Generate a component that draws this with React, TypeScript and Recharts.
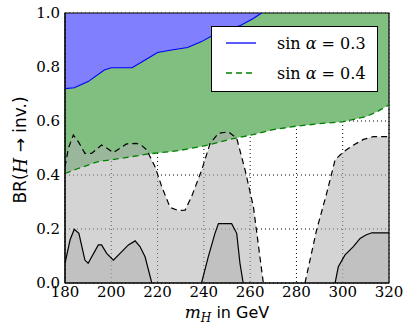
import React from "react";
import {
  ComposedChart,
  Area,
  Line,
  XAxis,
  YAxis,
  CartesianGrid,
  ReferenceArea,
  Legend,
} from "recharts";

// sin(alpha) = 0.3 contour (blue), region above is excluded
const blueX = [180, 184, 190, 197, 200, 209, 214.6, 220, 226, 233, 239, 243.4, 250, 256, 261, 265];
const blueY = [0.72, 0.723, 0.746, 0.789, 0.797, 0.797, 0.826, 0.854, 0.863, 0.872, 0.894, 0.915, 0.935, 0.955, 0.978, 1.0];

// sin(alpha) = 0.4 contour (green dashed)
const greenX = [180, 186, 194, 204.5, 216, 229, 242, 247, 251, 260, 270, 280, 290, 300, 310, 315, 320];
const greenY = [0.406, 0.425, 0.449, 0.462, 0.478, 0.49, 0.511, 0.522, 0.532, 0.547, 0.568, 0.581, 0.59, 0.597, 0.616, 0.635, 0.66];

// dashed black bound (light gray), two pieces
const dashAX = [180, 181.5, 183.6, 186, 188.6, 191.5, 195.8, 198, 200.9, 204, 206.6, 210.9, 213, 215.3, 218.9, 221.8, 225.4, 229, 231.9, 234.7, 239.1, 242.7, 246.3, 250.6, 254.2, 257.8, 261.4, 265.7];
const dashAY = [0.43, 0.5, 0.548, 0.52, 0.48, 0.48, 0.511, 0.5, 0.483, 0.5, 0.515, 0.517, 0.51, 0.493, 0.431, 0.357, 0.28, 0.268, 0.27, 0.32, 0.419, 0.517, 0.554, 0.56, 0.536, 0.419, 0.283, 0];
const dashBX = [283.7, 288.7, 293, 296.7, 300.3, 304.7, 309, 313.2, 320];
const dashBY = [0, 0.196, 0.33, 0.456, 0.486, 0.511, 0.532, 0.542, 0.542];

// solid black bound (dark gray), three pieces
const solidAX = [180, 182.2, 184, 186, 188.6, 190, 194.4, 195.8, 198, 200.9, 207.4, 210.3, 212.4, 214.6, 217.5];
const solidAY = [0.073, 0.16, 0.199, 0.184, 0.085, 0.073, 0.141, 0.141, 0.11, 0.085, 0.141, 0.156, 0.135, 0.097, 0];
const solidBX = [239, 241.9, 244.8, 246.3, 252, 254.2, 255.6, 257];
const solidBY = [0, 0.097, 0.184, 0.22, 0.22, 0.184, 0.073, 0];
const solidCX = [296.7, 298.1, 301, 304.6, 307.5, 310, 312.6, 320];
const solidCY = [0, 0.06, 0.104, 0.135, 0.165, 0.178, 0.186, 0.186];

const xTicks = [180, 200, 220, 240, 260, 280, 300, 320];
const yTicks = [0, 0.2, 0.4, 0.6, 0.8, 1.0];

const legendItems = [
  { value: "0.3", color: "#0000ff", dash: undefined },
  { value: "0.4", color: "#008000", dash: "6 4" },
];

const zip = (xs: number[], ys: number[]) => xs.map((x, i) => ({ x, y: ys[i] }));

const blue = zip(blueX, blueY);
const green = zip(greenX, greenY);
const dashA = zip(dashAX, dashAY);
const dashB = zip(dashBX, dashBY);
const solidA = zip(solidAX, solidAY);
const solidB = zip(solidBX, solidBY);
const solidC = zip(solidCX, solidCY);

const grayFill = "#b1b1b1";
const serif = "DejaVu Serif, serif";
const sans = "DejaVu Sans, sans-serif";

function LegendBox() {
  return (
    <div
      style={{
        width: 165,
        height: 64,
        border: "1px solid #000",
        background: "#fff",
        fontFamily: serif,
        fontSize: 16,
        color: "#000",
      }}
    >
      {legendItems.map((it, i) => (
        <div key={i} style={{ display: "flex", alignItems: "center", height: 30, marginTop: i === 0 ? 1 : 0 }}>
          <svg width={53} height={10} style={{ marginLeft: 12, flex: "none" }}>
            <line x1={2} y1={5} x2={32} y2={5} stroke={it.color} strokeWidth={1.3} strokeDasharray={it.dash} />
          </svg>
          <span style={{ whiteSpace: "pre" }}>
            sin <i>α</i> = {it.value}
          </span>
        </div>
      ))}
    </div>
  );
}

export default function App() {
  return (
    <div style={{ position: "absolute", left: 0, top: 0, background: "#fff" }}>
      <ComposedChart width={404} height={325} margin={{ top: 13, right: 15, bottom: 0, left: 0 }}>
        <XAxis
          dataKey="x"
          type="number"
          domain={[180, 320]}
          ticks={xTicks}
          allowDataOverflow
          tickLine={false}
          tickSize={0}
          tickMargin={3}
          height={42}
          axisLine={{ stroke: "#000" }}
          tick={{ fill: "#000", fontSize: 15, fontFamily: serif }}
          label={{
            content: () => (
              <text x={227} y={318} textAnchor="middle" fontFamily={sans} fontSize={16} fill="#000">
                <tspan fontFamily={serif} fontStyle="italic" fontSize={17}>m</tspan>
                <tspan fontFamily={serif} fontStyle="italic" fontSize={12} dy={4}>H</tspan>
                <tspan dy={-4}> in GeV</tspan>
              </text>
            ),
          }}
        />
        <YAxis
          type="number"
          domain={[0, 1]}
          ticks={yTicks}
          allowDataOverflow
          tickLine={false}
          tickSize={0}
          tickMargin={5}
          width={65}
          axisLine={{ stroke: "#000" }}
          tickFormatter={(v: number) => v.toFixed(1)}
          tick={{ fill: "#000", fontSize: 15, fontFamily: serif }}
          label={{
            content: () => (
              <text
                x={20}
                y={150}
                transform="rotate(-90 20 150)"
                textAnchor="middle"
                dominantBaseline="central"
                fontFamily={sans}
                fontSize={17}
                fill="#000"
              >
                BR(<tspan fontFamily={serif} fontStyle="italic" fontSize={18}>H</tspan> → inv.)
              </text>
            ),
          }}
        />

        <Area data={green} dataKey="y" type="linear" baseValue={1} fill="#80bf80" fillOpacity={1} stroke="none" isAnimationActive={false} activeDot={false} />
        <Area data={blue} dataKey="y" type="linear" baseValue={1} fill="#8080ff" fillOpacity={1} stroke="none" isAnimationActive={false} activeDot={false} />
        <Area data={dashA} dataKey="y" type="linear" fill={grayFill} fillOpacity={0.55} stroke="none" isAnimationActive={false} activeDot={false} />
        <Area data={dashB} dataKey="y" type="linear" fill={grayFill} fillOpacity={0.55} stroke="none" isAnimationActive={false} activeDot={false} />
        <Area data={solidA} dataKey="y" type="linear" fill={grayFill} fillOpacity={0.55} stroke="none" isAnimationActive={false} activeDot={false} />
        <Area data={solidB} dataKey="y" type="linear" fill={grayFill} fillOpacity={0.55} stroke="none" isAnimationActive={false} activeDot={false} />
        <Area data={solidC} dataKey="y" type="linear" fill={grayFill} fillOpacity={0.55} stroke="none" isAnimationActive={false} activeDot={false} />

        <CartesianGrid stroke="#000" strokeDasharray="1 3" />

        <Line data={green} dataKey="y" type="linear" stroke="#008000" strokeWidth={1.3} strokeDasharray="6 4" dot={false} activeDot={false} isAnimationActive={false} />
        <Line data={blue} dataKey="y" type="linear" stroke="#0000ff" strokeWidth={1.1} dot={false} activeDot={false} isAnimationActive={false} />
        <Line data={dashA} dataKey="y" type="linear" stroke="#000" strokeWidth={1.2} strokeDasharray="6 4" dot={false} activeDot={false} isAnimationActive={false} />
        <Line data={dashB} dataKey="y" type="linear" stroke="#000" strokeWidth={1.2} strokeDasharray="6 4" dot={false} activeDot={false} isAnimationActive={false} />
        <Line data={solidA} dataKey="y" type="linear" stroke="#000" strokeWidth={1.2} dot={false} activeDot={false} isAnimationActive={false} />
        <Line data={solidB} dataKey="y" type="linear" stroke="#000" strokeWidth={1.2} dot={false} activeDot={false} isAnimationActive={false} />
        <Line data={solidC} dataKey="y" type="linear" stroke="#000" strokeWidth={1.2} dot={false} activeDot={false} isAnimationActive={false} />

        <ReferenceArea x1={180} x2={320} y1={0} y2={1} fill="none" stroke="#000" strokeWidth={1.2} ifOverflow="visible" />

        <Legend
          layout="vertical"
          align="center"
          verticalAlign="middle"
          content={() => <LegendBox />}
          wrapperStyle={{ position: "absolute", left: 211, top: 26, width: "auto" }}
        />
      </ComposedChart>
    </div>
  );
}
